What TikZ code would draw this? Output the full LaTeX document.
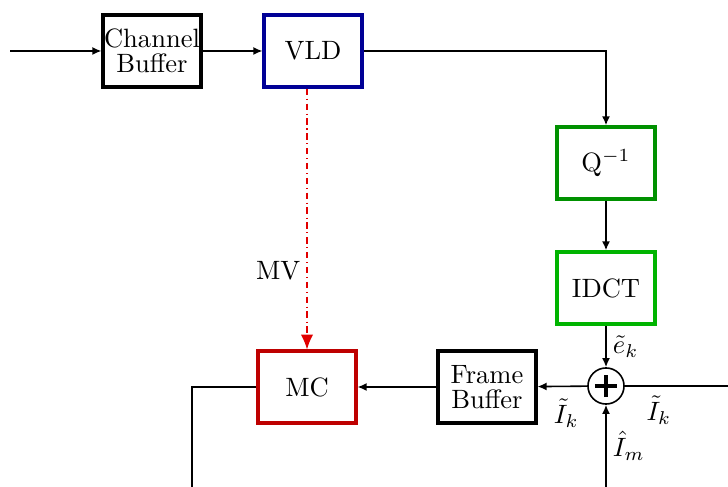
\documentclass[tikz,border=0pt]{standalone}
\usetikzlibrary{arrows.meta}
\definecolor{navy}{RGB}{0,0,150}
\definecolor{dgreen}{RGB}{0,145,0}
\definecolor{lgreen}{RGB}{0,180,0}
\definecolor{dred}{RGB}{190,0,0}
\definecolor{lred}{RGB}{225,0,0}
\begin{document}
\begin{tikzpicture}[x=0.377pt,y=-0.377pt,
  blk/.style={draw,line width=1.5pt,minimum width=36.6pt,minimum height=26.9pt,inner sep=0pt,align=center,fill=white},
  arr/.style={semithick,-{Latex[length=3.4pt,width=3pt]}},
  ln/.style={semithick},
  sumnode/.style={draw,semithick,circle,minimum size=13.6pt,inner sep=0pt,
    path picture={\draw[line width=1.2pt] ([xshift=-4.2pt]path picture bounding box.center) -- ([xshift=4.2pt]path picture bounding box.center);
                  \draw[line width=1.2pt] ([yshift=-4.2pt]path picture bounding box.center) -- ([yshift=4.2pt]path picture bounding box.center);}},
  mvline/.style={draw=lred,line width=0.4pt,dash pattern=on 2.4pt off 1.4pt on 0.4pt off 1.4pt,
    -{Latex[length=5.5pt,width=4.6pt,fill=lred]}}]
\useasboundingbox (0,0) rectangle (728,487);
\node[blk] (cb) at (152,51) {Channel\\[-2.6pt]Buffer};
\node[blk,draw=navy] (vld) at (313,51) {VLD};
\node[blk,draw=dgreen] (q) at (606,163) {Q$^{-1}$};
\node[blk,draw=lgreen] (idct) at (606,288) {IDCT};
\node[sumnode] (sum) at (606,386) {};
\node[blk] (fb) at (487,387) {Frame\\[-2.6pt]Buffer};
\node[blk,draw=dred] (mc) at (307,387) {MC};
\coordinate (in) at (10,51);
\coordinate (out) at (728,386);
\coordinate (bot) at (606,487);
\coordinate (bl) at (192,487);
\draw[arr] (in) -- (cb);
\draw[arr] (cb) -- (vld);
\draw[arr] (vld.east) -| (q.north);
\draw[arr] (q) -- (idct);
\draw[arr] (idct) -- node[right,xshift=-1pt]{$\tilde e_k$} (sum);
\draw[ln] (sum) -- node[below,pos=0.33]{$\tilde I_k$} (out);
\draw[arr] (bot) -- node[right,xshift=-1pt]{$\hat I_m$} (sum);
\draw[arr] (sum) -- node[below,yshift=-1pt,xshift=1.5pt]{$\tilde I_k$} (fb);
\draw[arr] (fb) -- (mc);
\draw[ln] (mc.west) -| (bl);
\draw[mvline] (vld.south -| mc.north) -- node[left,pos=0.7,xshift=1pt,text=black]{MV} (mc.north);
\end{tikzpicture}
\end{document}
